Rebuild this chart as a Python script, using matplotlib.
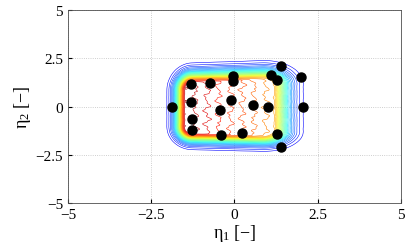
import numpy as np
import matplotlib
matplotlib.use("Agg")
import matplotlib.pyplot as plt
from matplotlib.colors import ListedColormap

# sample points (eta_1, eta_2)
pts_x = [-1.87, -1.29, -0.72, -0.04, -0.04, 1.39, 1.09, 1.29, 1.99, -1.30, -0.11,
         -0.44, 0.56, 1.01, 2.07, -1.27, -1.28, -0.40, 0.22, 1.28, 1.39]
pts_y = [0.00, 1.16, 1.23, 1.57, 1.32, 2.09, 1.66, 1.40, 1.52, 0.26, 0.35,
         -0.17, 0.10, 0.00, -0.02, -0.64, -1.19, -1.48, -1.38, -1.41, -2.07]

ticks = [-5, -2.5, 0, 2.5, 5]
tick_labels = ["\u22125", "\u22122.5", "0", "2.5", "5"]

# density field: plateau region (inner edges) with a decaying tail outside
x_in_left, x_in_right = -1.47, 1.17
top_in, top_slope = 1.27, 0.08
bot_in, bot_slope = -1.40, -0.06
s_left, s_right, s_top, s_bot = 0.27, 0.48, 0.50, 0.42
corner = 0.7
tail_pow = 1.5
plateau_c, plateau_s = 0.82, -0.085
levels = np.linspace(0.05, 0.98, 32)


gx = np.linspace(-2.8, 3.0, 600)
gy = np.linspace(-3.0, 3.0, 600)
X, Y = np.meshgrid(gx, gy)

wig = (0.07 * np.sin(9 * Y + 3 * X) + 0.04 * np.sin(17 * Y - 5 * X)
       + 0.03 * np.sin(29 * Y + 11 * X))
P = plateau_c + plateau_s * (X + wig)

xl = x_in_left + corner * s_left
xr = x_in_right - corner * s_right
yt = top_in + top_slope * (X + 0.9) - corner * s_top
yb = bot_in + bot_slope * (X + 0.9) + corner * s_bot
dx = np.where(X < xl, (xl - X) / s_left,
              np.where(X > xr, (X - xr) / s_right, 0.0))
dy = np.where(Y > yt, (Y - yt) / s_top,
              np.where(Y < yb, (yb - Y) / s_bot, 0.0))
dist = np.clip(np.sqrt(dx ** 2 + dy ** 2) - corner, 0, None)
Z = P * np.exp(-dist ** tail_pow)

jet = plt.get_cmap("jet")
cmap = ListedColormap(jet(np.linspace(0.12, 1.0, 256)))

plt.rcParams["font.family"] = ["Liberation Serif", "DejaVu Serif"]
plt.rcParams["mathtext.fontset"] = "custom"
plt.rcParams["mathtext.rm"] = "Liberation Serif"
plt.rcParams["mathtext.it"] = "Liberation Serif:italic"

fig = plt.figure(figsize=(4.07, 2.51), dpi=100)
ax = fig.add_axes([0.167, 0.187, 0.818, 0.769])

ax.contour(X, Y, Z, levels=levels, cmap=cmap, linewidths=0.4)
ax.plot(pts_x, pts_y, "o", color="black", ms=6.5, zorder=5)

ax.set_xlim(-5, 5)
ax.set_ylim(-5, 5)
ax.set_xticks(ticks)
ax.set_xticklabels(tick_labels)
ax.set_yticks(ticks)
ax.set_yticklabels(tick_labels)
ax.tick_params(direction="in", length=3, labelsize=11, colors="black")
ax.grid(True, ls=":", color="0.75", lw=0.6)
for s in ax.spines.values():
    s.set_color("0.3")
    s.set_linewidth(0.6)

ax.set_xlabel("\u03b7$_1$ [\u2212]", fontsize=13, labelpad=1)
ax.set_ylabel("\u03b7$_2$ [\u2212]", fontsize=13, labelpad=2)

fig.savefig("out.png", dpi=100)
